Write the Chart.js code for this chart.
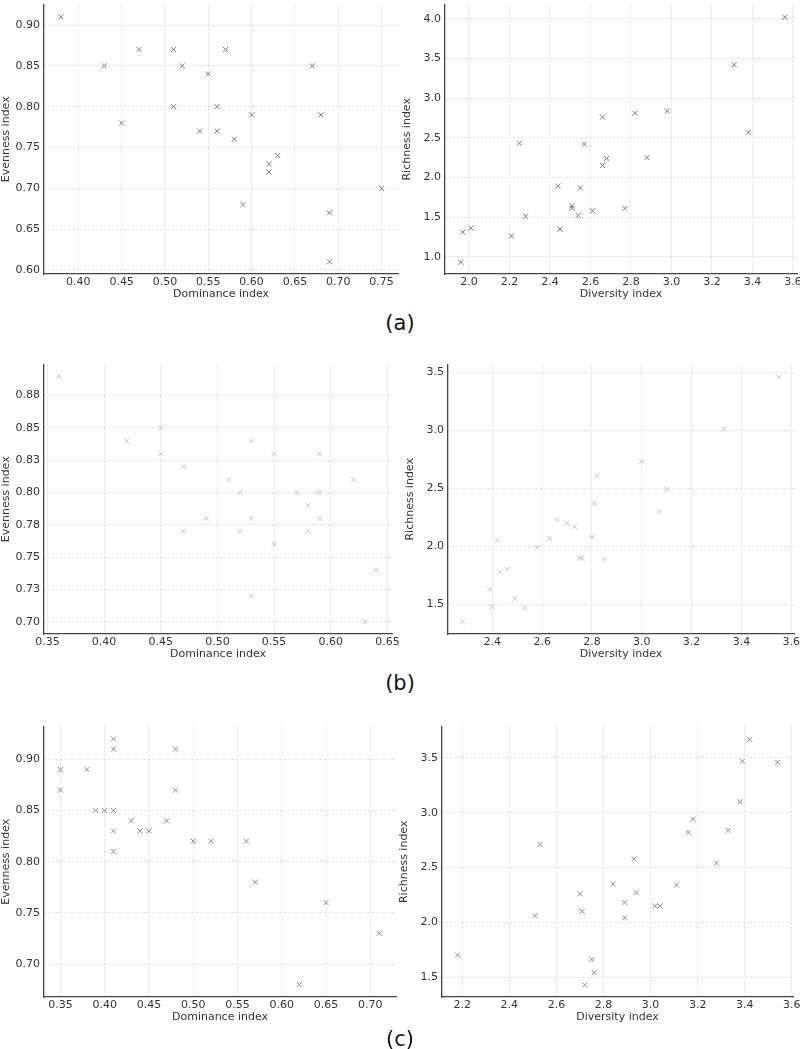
<!DOCTYPE html>
<html>
<head>
<meta charset="utf-8">
<script src="https://cdn.jsdelivr.net/npm/chart.js@4.4.1/dist/chart.umd.min.js"></script>
<style>
  html, body { margin: 0; background: #fff; overflow: hidden; }
  #fig { position: relative; width: 800px; height: 1049px; background: #fff; overflow: hidden; }
  canvas { position: absolute; }
  .lab { position: absolute; width: 60px; text-align: center; font-family: "DejaVu Sans", sans-serif;
         font-size: 21px; color: #111; line-height: 24px; }
</style>
</head>
<body>
<div id="fig">
  <canvas id="aL"></canvas><canvas id="aR"></canvas>
  <canvas id="bL"></canvas><canvas id="bR"></canvas>
  <canvas id="cL"></canvas><canvas id="cR"></canvas>
  <div class="lab" style="left:370px;top:311px">(a)</div>
  <div class="lab" style="left:370px;top:671px">(b)</div>
  <div class="lab" style="left:370px;top:1027px">(c)</div>
</div>
<script>
// (a) dominance vs evenness
const aDominance = [0.38, 0.43, 0.45, 0.47, 0.51, 0.51, 0.52, 0.54, 0.55, 0.56, 0.56, 0.57, 0.58, 0.59, 0.60, 0.62, 0.62, 0.63, 0.67, 0.68, 0.69, 0.69, 0.75];
const aEvenness  = [0.91, 0.85, 0.78, 0.87, 0.87, 0.80, 0.85, 0.77, 0.84, 0.80, 0.77, 0.87, 0.76, 0.68, 0.79, 0.73, 0.72, 0.74, 0.85, 0.79, 0.67, 0.61, 0.70];
// (a) diversity vs richness
const aDiversity = [1.96, 1.97, 2.01, 2.21, 2.25, 2.28, 2.44, 2.45, 2.51, 2.51, 2.54, 2.55, 2.57, 2.61, 2.66, 2.66, 2.68, 2.77, 2.82, 2.88, 2.98, 3.31, 3.38, 3.56];
const aRichness  = [0.93, 1.31, 1.36, 1.26, 2.43, 1.51, 1.89, 1.35, 1.64, 1.61, 1.52, 1.87, 2.42, 1.58, 2.76, 2.15, 2.24, 1.61, 2.81, 2.25, 2.84, 3.42, 2.57, 4.02];

// (b)
const bDominance = [0.36, 0.42, 0.45, 0.45, 0.47, 0.47, 0.49, 0.51, 0.52, 0.52, 0.53, 0.53, 0.53, 0.55, 0.55, 0.57, 0.58, 0.58, 0.59, 0.59, 0.59, 0.62, 0.63, 0.64];
const bEvenness  = [0.89, 0.84, 0.85, 0.83, 0.82, 0.77, 0.78, 0.81, 0.80, 0.77, 0.84, 0.78, 0.72, 0.83, 0.76, 0.80, 0.79, 0.77, 0.83, 0.80, 0.78, 0.81, 0.70, 0.74];
const bDiversity = [2.28, 2.39, 2.40, 2.42, 2.43, 2.46, 2.49, 2.53, 2.58, 2.63, 2.66, 2.70, 2.73, 2.75, 2.76, 2.80, 2.81, 2.82, 2.85, 3.00, 3.07, 3.10, 3.33, 3.55];
const bRichness  = [1.35, 1.63, 1.48, 2.05, 1.78, 1.80, 1.55, 1.47, 1.99, 2.07, 2.23, 2.20, 2.17, 1.90, 1.90, 2.08, 2.37, 2.61, 1.89, 2.73, 2.30, 2.49, 3.01, 3.46];

// (c)
const cDominance = [0.35, 0.35, 0.38, 0.39, 0.40, 0.41, 0.41, 0.41, 0.41, 0.41, 0.43, 0.44, 0.45, 0.47, 0.48, 0.48, 0.50, 0.52, 0.56, 0.57, 0.62, 0.65, 0.71];
const cEvenness  = [0.89, 0.87, 0.89, 0.85, 0.85, 0.92, 0.91, 0.85, 0.83, 0.81, 0.84, 0.83, 0.83, 0.84, 0.91, 0.87, 0.82, 0.82, 0.82, 0.78, 0.68, 0.76, 0.73];
const cDiversity = [2.18, 2.51, 2.53, 2.70, 2.72, 2.71, 2.75, 2.76, 2.84, 2.89, 2.89, 2.93, 2.94, 3.02, 3.04, 3.11, 3.16, 3.18, 3.28, 3.33, 3.38, 3.39, 3.42, 3.54];
const cRichness  = [1.70, 2.06, 2.71, 2.26, 1.43, 2.10, 1.66, 1.54, 2.35, 2.18, 2.04, 2.58, 2.27, 2.15, 2.15, 2.34, 2.82, 2.94, 2.54, 2.84, 3.10, 3.47, 3.67, 3.46];

// tick values and labels
const aXTicksL = [0.40, 0.45, 0.50, 0.55, 0.60, 0.65, 0.70, 0.75];
const aXLabelsL = ['0.40', '0.45', '0.50', '0.55', '0.60', '0.65', '0.70', '0.75'];
const aYTicksL = [0.60, 0.65, 0.70, 0.75, 0.80, 0.85, 0.90];
const aYLabelsL = ['0.60', '0.65', '0.70', '0.75', '0.80', '0.85', '0.90'];
const aXTicksR = [2.0, 2.2, 2.4, 2.6, 2.8, 3.0, 3.2, 3.4, 3.6];
const aXLabelsR = ['2.0', '2.2', '2.4', '2.6', '2.8', '3.0', '3.2', '3.4', '3.6'];
const aYTicksR = [1.0, 1.5, 2.0, 2.5, 3.0, 3.5, 4.0];
const aYLabelsR = ['1.0', '1.5', '2.0', '2.5', '3.0', '3.5', '4.0'];

const bXTicksL = [0.35, 0.40, 0.45, 0.50, 0.55, 0.60, 0.65];
const bXLabelsL = ['0.35', '0.40', '0.45', '0.50', '0.55', '0.60', '0.65'];
const bYTicksL = [0.700, 0.725, 0.750, 0.775, 0.800, 0.825, 0.850, 0.875];
const bYLabelsL = ['0.70', '0.73', '0.75', '0.78', '0.80', '0.83', '0.85', '0.88'];
const bXTicksR = [2.4, 2.6, 2.8, 3.0, 3.2, 3.4, 3.6];
const bXLabelsR = ['2.4', '2.6', '2.8', '3.0', '3.2', '3.4', '3.6'];
const bYTicksR = [1.5, 2.0, 2.5, 3.0, 3.5];
const bYLabelsR = ['1.5', '2.0', '2.5', '3.0', '3.5'];

const cXTicksL = [0.35, 0.40, 0.45, 0.50, 0.55, 0.60, 0.65, 0.70];
const cXLabelsL = ['0.35', '0.40', '0.45', '0.50', '0.55', '0.60', '0.65', '0.70'];
const cYTicksL = [0.70, 0.75, 0.80, 0.85, 0.90];
const cYLabelsL = ['0.70', '0.75', '0.80', '0.85', '0.90'];
const cXTicksR = [2.2, 2.4, 2.6, 2.8, 3.0, 3.2, 3.4, 3.6];
const cXLabelsR = ['2.2', '2.4', '2.6', '2.8', '3.0', '3.2', '3.4', '3.6'];
const cYTicksR = [1.5, 2.0, 2.5, 3.0, 3.5];
const cYLabelsR = ['1.5', '2.0', '2.5', '3.0', '3.5'];

const FONT = { family: 'DejaVu Sans', size: 11 };
const YW = 44, XH = 34, PADR = 16;

function axis(min, max, ticks, labels, title, horiz) {
  return {
    type: 'linear',
    min: min, max: max,
    afterBuildTicks: s => { s.ticks = ticks.map(v => ({ value: v })); },
    afterFit: s => {
      if (horiz) s.height = XH; else s.width = YW;
      s.paddingLeft = s.paddingRight = s.paddingTop = s.paddingBottom = 0;
    },
    ticks: {
      color: '#333', font: FONT, padding: horiz ? 2 : 4,
      autoSkip: false, maxRotation: 0,
      callback: (v, i) => labels[i]
    },
    grid: { color: '#dcdcdc', lineWidth: 1, drawTicks: false },
    border: { display: true, color: '#444', width: 1.3, dash: [2, 2] },
    title: { display: true, text: title, color: '#333', font: FONT,
             padding: horiz ? { top: 0, bottom: 7 } : { top: 0, bottom: 0 } }
  };
}

// rect = plot area [left, right, top, bottom] in page pixels
function panel(id, rect, xs, ys, color, xr, yr, xt, xl, yt, yl, xTitle, yTitle) {
  const [L, R, T, B] = rect;
  const cv = document.getElementById(id);
  const w = R - L + YW + PADR, h = B - T + 4 + XH;
  cv.width = w; cv.height = h;
  cv.style.left = (L - YW) + 'px';
  cv.style.top = (T - 4) + 'px';
  cv.style.width = w + 'px'; cv.style.height = h + 'px';
  new Chart(cv.getContext('2d'), {
    type: 'scatter',
    data: {
      datasets: [{
        data: xs.map((x, i) => ({ x: x, y: ys[i] })),
        pointStyle: 'crossRot',
        pointRadius: 3.6,
        pointHoverRadius: 3.6,
        borderColor: color,
        backgroundColor: color,
        pointBorderWidth: 1,
        clip: false
      }]
    },
    options: {
      responsive: false,
      animation: false,
      devicePixelRatio: 1,
      layout: { padding: { top: 4, right: PADR, left: 0, bottom: 0 } },
      plugins: { legend: { display: false }, tooltip: { enabled: false } },
      scales: {
        x: axis(xr[0], xr[1], xt, xl, xTitle, true),
        y: axis(yr[0], yr[1], yt, yl, yTitle, false)
      }
    }
  });
}

panel('aL', [44, 398, 4, 274], aDominance, aEvenness, '#777', [0.3604, 0.769], [0.595, 0.925],
      aXTicksL, aXLabelsL, aYTicksL, aYLabelsL, 'Dominance index', 'Evenness index');
panel('aR', [445, 797, 4, 274], aDiversity, aRichness, '#777', [1.882, 3.62], [0.782, 4.18],
      aXTicksR, aXLabelsR, aYTicksR, aYLabelsR, 'Diversity index', 'Richness index');
panel('bL', [44, 392, 364, 634], bDominance, bEvenness, '#c4c4c4', [0.347, 0.654], [0.6905, 0.899],
      bXTicksL, bXLabelsL, bYTicksL, bYLabelsL, 'Dominance index', 'Evenness index');
panel('bR', [448, 794, 364, 634], bDiversity, bRichness, '#c4c4c4', [2.222, 3.611], [1.245, 3.566],
      bXTicksR, bXLabelsR, bYTicksR, bYLabelsR, 'Diversity index', 'Richness index');
panel('cL', [44, 396, 726, 997], cDominance, cEvenness, '#888', [0.3315, 0.729], [0.6678, 0.932],
      cXTicksL, cXLabelsL, cYTicksL, cYLabelsL, 'Dominance index', 'Evenness index');
panel('cR', [442, 793, 726, 997], cDiversity, cRichness, '#888', [2.114, 3.605], [1.318, 3.786],
      cXTicksR, cXLabelsR, cYTicksR, cYLabelsR, 'Diversity index', 'Richness index');
</script>
</body>
</html>
